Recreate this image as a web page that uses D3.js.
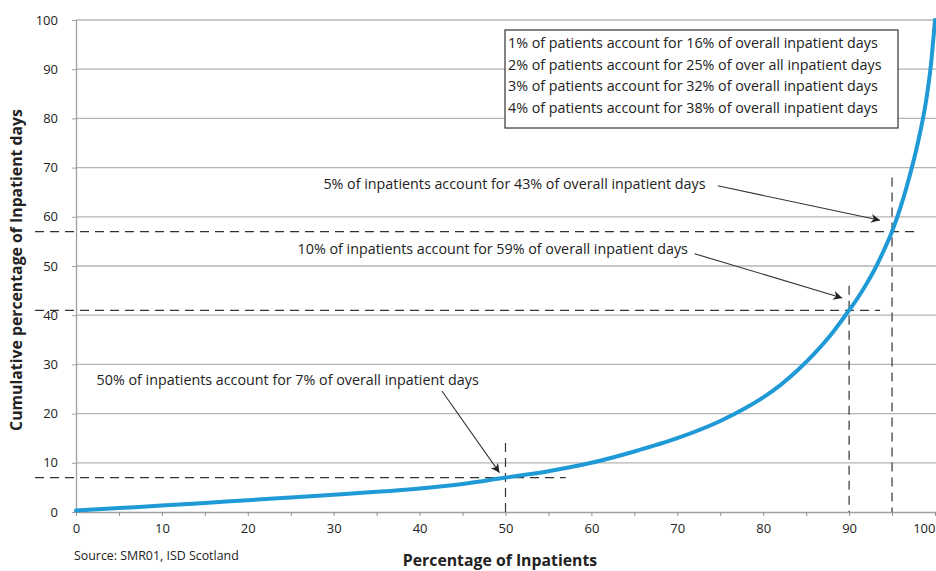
<!DOCTYPE html>
<html>
<head>
<meta charset="utf-8">
<script src="https://cdn.jsdelivr.net/npm/d3@7"></script>
<style>
  body { margin: 0; background: #fff; }
  svg { display: block; font-family: "Open Sans", "Lato", sans-serif; }
</style>
</head>
<body>
<div id="chart"></div>
<script>
// curve: % of inpatients (sorted) vs cumulative % of days
var pctInpatients = [0, 5, 10, 15, 20, 25, 30, 35, 40, 45, 50, 55, 60, 65, 70, 75, 78, 80, 82, 84, 86, 88, 90, 91, 92, 93, 94, 95, 96, 97, 98, 99, 99.5, 100];
var cumDays = [0.3, 0.8, 1.3, 1.85, 2.4, 2.95, 3.5, 4.1, 4.8, 5.7, 7, 8.3, 10, 12.3, 15, 18.5, 21.2, 23.3, 25.8, 28.8, 32.3, 36.3, 41, 43.5, 46.3, 49.4, 53, 57, 62, 68, 75, 84, 90.5, 100];

var xTicks = [0, 10, 20, 30, 40, 50, 60, 70, 80, 90, 100];
var yTicks = [0, 10, 20, 30, 40, 50, 60, 70, 80, 90, 100];

var boxLines = [
  "1% of patients account for 16% of overall inpatient days",
  "2% of patients account for 25% of over all inpatient days",
  "3% of patients account for 32% of overall inpatient days",
  "4% of patients account for 38% of overall inpatient days"
];

// highlighted points
var markX = [95, 90, 50];
var markY = [57, 41, 7];
var markText = [
  "5% of inpatients account for 43% of overall inpatient days",
  "10% of inpatients account for 59% of overall inpatient days",
  "50% of inpatients account for 7% of overall inpatient days"
];

var width = 936, height = 571;
var margin = {top: 20, right: 1, bottom: 59, left: 76};
var labelFont = "14.3px";

var x = d3.scaleLinear().domain([0, 100]).range([margin.left, width - margin.right]);
var y = d3.scaleLinear().domain([0, 100]).range([height - margin.bottom, margin.top]);

var svg = d3.select("#chart").append("svg")
    .attr("width", width)
    .attr("height", height);

// arrow head
svg.append("defs").append("marker")
    .attr("id", "arrow")
    .attr("viewBox", "0 0 10 10")
    .attr("refX", 10).attr("refY", 5)
    .attr("markerWidth", 11).attr("markerHeight", 9)
    .attr("markerUnits", "userSpaceOnUse")
    .attr("orient", "auto")
  .append("path")
    .attr("d", "M0,0 L10,5 L0,10 L3,5 Z")
    .attr("fill", "#222");

// gridlines
svg.append("g").selectAll("line")
    .data(yTicks.filter(function(d) { return d > 0; }))
  .enter().append("line")
    .attr("x1", x(0))
    .attr("x2", width)
    .attr("y1", function(d) { return y(d); })
    .attr("y2", function(d) { return y(d); })
    .attr("stroke", "#b4b4b4")
    .attr("stroke-width", 1.3);

// y axis
var yAxis = svg.append("g")
    .attr("transform", "translate(" + x(0) + ",0)")
    .call(d3.axisLeft(y).tickValues(yTicks).tickSize(4).tickSizeOuter(0).tickPadding(14));
yAxis.select(".domain").attr("stroke", "#a0a0a0").attr("stroke-width", 1.3);
yAxis.selectAll(".tick line").attr("stroke", "#a0a0a0");
yAxis.selectAll("text").attr("font-size", "13px").attr("fill", "#222")
    .attr("font-family", "Open Sans, sans-serif");

// x axis, minor ticks every 5
var xAxis = svg.append("g")
    .attr("transform", "translate(0," + y(0) + ")")
    .call(d3.axisBottom(x).tickValues(d3.range(0, 101, 5)).tickSize(4).tickSizeOuter(0)
      .tickFormat(function(d) { return xTicks.indexOf(d) >= 0 ? d : ""; }).tickPadding(8));
xAxis.select(".domain").attr("stroke", "#a0a0a0").attr("stroke-width", 1.3);
xAxis.selectAll(".tick line").attr("stroke", "#909090");
xAxis.selectAll("text").attr("font-size", "13px").attr("fill", "#222")
    .attr("font-family", "Open Sans, sans-serif")
    .attr("text-anchor", function(d) { return d === 100 ? "end" : "middle"; });

// dashed guides
var hEnd = [98, 93.6, 57];
var vTop = [68, 46, 14];
var guides = svg.append("g")
    .attr("stroke", "#333")
    .attr("stroke-width", 1.2)
    .attr("stroke-dasharray", "9,6")
    .attr("fill", "none");
markX.forEach(function(mx, i) {
  guides.append("line")
      .attr("x1", 35).attr("x2", x(hEnd[i]))
      .attr("y1", y(markY[i])).attr("y2", y(markY[i]));
  guides.append("line")
      .attr("x1", x(mx)).attr("x2", x(mx))
      .attr("y1", y(vTop[i])).attr("y2", y(0));
});

// the curve
var line = d3.line()
    .x(function(d, i) { return x(pctInpatients[i]); })
    .y(function(d) { return y(d); })
    .curve(d3.curveMonotoneX);

svg.append("path")
    .datum(cumDays)
    .attr("d", line)
    .attr("fill", "none")
    .attr("stroke", "#1f9ad6")
    .attr("stroke-width", 4)
    .attr("stroke-linecap", "round");

// annotations: text anchor and arrow start/end in data coords
var textPos = [[28.8, 66.6], [25.8, 53.5], [2.4, 26.9]];
var arrowFrom = [[74.7, 66.3], [72, 52.5], [42.6, 24.6]];
var arrowTo = [[93.6, 59.3], [89.2, 43.5], [49.3, 8]];

markText.forEach(function(t, i) {
  svg.append("text")
      .attr("x", x(textPos[i][0]))
      .attr("y", y(textPos[i][1]))
      .attr("font-size", labelFont)
      .attr("fill", "#222")
      .attr("dy", "0.35em")
      .text(t);
  svg.append("line")
      .attr("x1", x(arrowFrom[i][0])).attr("y1", y(arrowFrom[i][1]))
      .attr("x2", x(arrowTo[i][0])).attr("y2", y(arrowTo[i][1]))
      .attr("stroke", "#333")
      .attr("stroke-width", 1.1)
      .attr("marker-end", "url(#arrow)");
});

// box with the top-percent figures
var box = svg.append("g").attr("transform", "translate(505,30)");
box.append("rect")
    .attr("width", 393).attr("height", 98)
    .attr("fill", "#fff")
    .attr("stroke", "#333")
    .attr("stroke-width", 1.2);
box.selectAll("text")
    .data(boxLines)
  .enter().append("text")
    .attr("x", 3)
    .attr("y", function(d, i) { return 13 + i * 21.6; })
    .attr("dy", "0.35em")
    .attr("font-size", labelFont)
    .attr("fill", "#222")
    .text(function(d) { return d; });

// axis titles and source
svg.append("text")
    .attr("transform", "translate(22," + ((y(0) + y(100)) / 2 + 4) + ") rotate(-90)")
    .attr("text-anchor", "middle")
    .attr("font-size", "15.8px")
    .attr("font-weight", "bold")
    .attr("fill", "#222")
    .text("Cumulative percentage of Inpatient days");

svg.append("text")
    .attr("x", 500)
    .attr("y", 566)
    .attr("text-anchor", "middle")
    .attr("font-size", "15.8px")
    .attr("font-weight", "bold")
    .attr("fill", "#222")
    .text("Percentage of Inpatients");

svg.append("text")
    .attr("x", 74)
    .attr("y", 560)
    .attr("font-size", "12.4px")
    .attr("fill", "#222")
    .text("Source: SMR01, ISD Scotland");
</script>
</body>
</html>
